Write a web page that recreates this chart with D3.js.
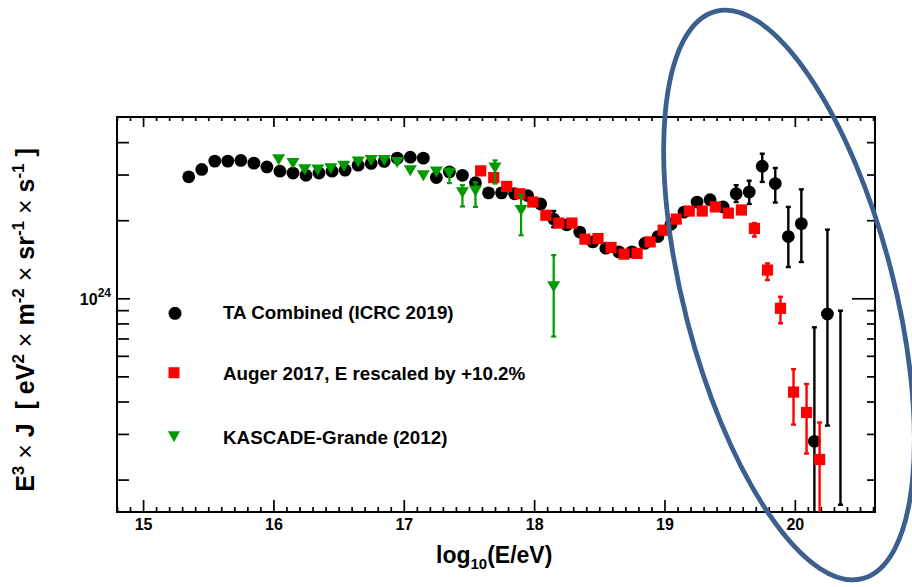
<!DOCTYPE html>
<html><head><meta charset="utf-8">
<script src="https://cdn.jsdelivr.net/npm/d3@7"></script>
<style>
body{margin:0;background:#fff}
svg{display:block}
text{font-family:"Liberation Sans",Arial,Helvetica,sans-serif}
</style>
</head><body>
<svg id="c" width="912" height="587"></svg>
<script>
// ---------------- DATA ----------------
// TA Combined (ICRC 2019)
const taLogE = [15.35,15.45,15.55,15.65,15.75,15.85,15.95,16.05,16.15,16.25,16.35,16.45,16.55,16.65,16.75,16.85,16.95,17.05,17.15,17.25,17.35,17.45,17.55,17.65,17.75,17.85,17.95,18.05,18.15,18.25,18.35,18.45,18.55,18.65,18.75,18.85,18.95,19.05,19.15,19.25,19.35,19.45,19.55,19.65,19.75,19.85,19.95,20.05,20.15,20.25,20.35];
const taJ    = [2.94e24,3.14e24,3.38e24,3.38e24,3.40e24,3.32e24,3.21e24,3.09e24,3.04e24,2.98e24,3.04e24,3.09e24,3.12e24,3.26e24,3.31e24,3.37e24,3.47e24,3.50e24,3.47e24,2.92e24,3.07e24,2.98e24,2.79e24,2.55e24,2.55e24,2.53e24,2.49e24,2.31e24,2.02e24,1.92e24,1.80e24,1.65e24,1.56e24,1.51e24,1.51e24,1.63e24,1.73e24,1.93e24,2.15e24,2.35e24,2.40e24,2.25e24,2.53e24,2.57e24,3.23e24,2.77e24,1.73e24,1.94e24,2.81e23,8.70e23,null];
const taLo   = [null,null,null,null,null,null,null,null,null,null,null,null,null,null,null,null,null,null,null,null,null,null,null,null,null,null,null,null,1.88e24,null,null,null,null,null,null,null,null,null,null,null,null,null,2.35e24,2.31e24,2.81e24,2.34e24,1.32e24,1.38e24,1.0e23,3.23e23,1.60e23];
const taHi   = [null,null,null,null,null,null,null,null,null,null,null,null,null,null,null,null,null,null,null,null,null,null,null,null,null,null,null,null,2.17e24,null,null,null,null,null,null,null,null,null,null,null,null,null,2.73e24,2.84e24,3.61e24,3.18e24,2.25e24,2.63e24,7.73e23,1.84e24,8.96e23];

// Auger 2017, E rescaled by +10.2%
const augerLogE = [17.59,17.69,17.79,17.89,17.99,18.09,18.19,18.29,18.39,18.49,18.59,18.69,18.79,18.89,18.99,19.09,19.19,19.29,19.39,19.49,19.59,19.69,19.79,19.89,19.99,20.09,20.19];
const augerJ    = [3.10e24,2.92e24,2.70e24,2.53e24,2.35e24,2.09e24,1.95e24,1.95e24,1.69e24,1.70e24,1.57e24,1.48e24,1.49e24,1.65e24,1.83e24,2.02e24,2.17e24,2.17e24,2.25e24,2.13e24,2.19e24,1.86e24,1.285e24,9.15e23,4.35e23,3.63e23,2.39e23];
const augerLo   = [null,null,null,null,null,null,null,null,null,null,null,null,null,null,null,null,null,null,null,null,null,1.73e24,1.176e24,8.01e23,3.26e23,2.52e23,1.0e23];
const augerHi   = [null,null,null,null,null,null,null,null,null,null,null,null,null,null,null,null,null,null,null,null,null,1.95e24,1.363e24,1.014e24,5.33e23,4.67e23,3.32e23];

// KASCADE-Grande (2012)
const kgLogE = [16.04,16.15,16.24,16.34,16.44,16.54,16.65,16.75,16.85,16.95,17.05,17.15,17.25,17.35,17.45,17.55,17.70,17.90,18.15];
const kgJ    = [3.42e24,3.31e24,3.13e24,3.12e24,3.16e24,3.23e24,3.35e24,3.40e24,3.40e24,3.34e24,3.10e24,2.97e24,3.07e24,3.03e24,2.55e24,2.59e24,3.18e24,2.18e24,1.108e24];
const kgLo   = [null,null,null,null,null,null,null,null,null,null,null,null,null,2.78e24,2.26e24,2.25e24,2.77e24,1.75e24,7.12e23];
const kgHi   = [null,null,null,null,null,null,null,null,null,null,null,null,null,3.17e24,2.73e24,2.80e24,3.40e24,2.50e24,1.467e24];

const xMajorTicks = [15,16,17,18,19,20];
const yMajorTicks = [1e24];
const yMinorTicks = [2e23,3e23,4e23,5e23,6e23,7e23,8e23,9e23,2e24,3e24,4e24];
const legendLabels = ["TA Combined (ICRC 2019)","Auger 2017, E rescaled by +10.2%","KASCADE-Grande (2012)"];

// ---------------- LAYOUT ----------------
const L=117,R=875,T=117,B=512;
const FONT='"Liberation Sans",Arial,Helvetica,sans-serif';
const svg=d3.select("#c");
const x=d3.scaleLinear().domain([14.8,20.615]).range([L,R]);
const y=d3.scaleLog().domain([1.5e23,5e24]).range([B,T]);

const xMinorTicks=d3.range(148,207).filter(d=>d%10!==0).map(d=>d/10);

function styleAxis(g){
  g.select(".domain").remove();
  g.selectAll(".tick line").attr("stroke","#000").attr("stroke-width",1.7);
  g.attr("font-family",FONT);
}
// bottom
svg.append("g").attr("transform",`translate(0,${B})`)
  .call(d3.axisBottom(x).tickValues(xMinorTicks).tickSize(-5).tickFormat("")).call(styleAxis);
svg.append("g").attr("transform",`translate(0,${B})`)
  .call(d3.axisBottom(x).tickValues(xMajorTicks).tickSize(-12).tickPadding(7).tickFormat(d3.format("d")))
  .call(styleAxis)
  .call(g=>g.selectAll("text").style("font-size","16px").style("font-weight","bold").attr("fill","#000"));
// top
svg.append("g").attr("transform",`translate(0,${T})`)
  .call(d3.axisTop(x).tickValues(xMinorTicks).tickSize(-4).tickFormat("")).call(styleAxis);
svg.append("g").attr("transform",`translate(0,${T})`)
  .call(d3.axisTop(x).tickValues(xMajorTicks).tickSize(-10).tickFormat("")).call(styleAxis);
// left
svg.append("g").attr("transform",`translate(${L},0)`)
  .call(d3.axisLeft(y).tickValues(yMinorTicks).tickSize(-12).tickFormat("")).call(styleAxis);
svg.append("g").attr("transform",`translate(${L},0)`)
  .call(d3.axisLeft(y).tickValues(yMajorTicks).tickSize(-13).tickFormat("")).call(styleAxis);
// right
svg.append("g").attr("transform",`translate(${R},0)`)
  .call(d3.axisRight(y).tickValues(yMinorTicks).tickSize(-8).tickFormat("")).call(styleAxis);
svg.append("g").attr("transform",`translate(${R},0)`)
  .call(d3.axisRight(y).tickValues(yMajorTicks).tickSize(-23).tickFormat("")).call(styleAxis);

// 10^24 label
yMajorTicks.forEach(v=>{
  const exp=Math.round(Math.log10(v));
  const t=svg.append("text").attr("x",111).attr("y",y(v)+7).attr("text-anchor","end")
    .attr("font-weight","bold").attr("font-size",16);
  t.append("tspan").text("10");
  t.append("tspan").attr("font-size",12).attr("dy",-8).text(exp);
});

// frame
svg.append("rect").attr("x",L).attr("y",T).attr("width",R-L).attr("height",B-T)
  .attr("fill","none").attr("stroke","#000").attr("stroke-width",2);

// clip
svg.append("clipPath").attr("id","clip").append("rect")
  .attr("x",L).attr("y",T).attr("width",R-L).attr("height",B-T);
const plot=svg.append("g").attr("clip-path","url(#clip)");

function series(logE,J,lo,hi){return logE.map((e,i)=>({e,j:J[i],lo:lo[i],hi:hi[i]}));}
function errBars(g,data,color,w){
  const d=data.filter(p=>p.lo!=null&&p.hi!=null);
  g.selectAll(null).data(d).join("line")
    .attr("x1",p=>x(p.e)).attr("x2",p=>x(p.e)).attr("y1",p=>y(p.lo)).attr("y2",p=>y(p.hi))
    .attr("stroke",color).attr("stroke-width",w);
  ["lo","hi"].forEach(k=>{
    g.selectAll(null).data(d).join("line")
      .attr("x1",p=>x(p.e)-2.5).attr("x2",p=>x(p.e)+2.5).attr("y1",p=>y(p[k])).attr("y2",p=>y(p[k]))
      .attr("stroke",color).attr("stroke-width",w);
  });
}
const ta=series(taLogE,taJ,taLo,taHi);
const au=series(augerLogE,augerJ,augerLo,augerHi);
const kg=series(kgLogE,kgJ,kgLo,kgHi);

const BLACK="#000", RED="#ff0000", GREEN="#009a00";
const triPath=(cx,cy,w,h)=>`M${cx-w/2},${cy-h/2}L${cx+w/2},${cy-h/2}L${cx},${cy+h/2}Z`;

// TA
const gTA=plot.append("g");
errBars(gTA,ta,BLACK,2.4);
gTA.selectAll("circle").data(ta.filter(p=>p.j!=null)).join("circle")
  .attr("cx",p=>x(p.e)).attr("cy",p=>y(p.j)).attr("r",6.4).attr("fill",BLACK);
// Auger
const gAu=plot.append("g");
errBars(gAu,au,RED,2.4);
gAu.selectAll("rect").data(au).join("rect")
  .attr("x",p=>x(p.e)-5.6).attr("y",p=>y(p.j)-5.6).attr("width",11.2).attr("height",11.2).attr("fill",RED);
// KASCADE
const gKG=plot.append("g");
errBars(gKG,kg,GREEN,2.2);
gKG.selectAll("path").data(kg).join("path")
  .attr("d",p=>triPath(x(p.e),y(p.j),13,11)).attr("fill",GREEN);

// Legend
const lg=svg.append("g");
lg.append("circle").attr("cx",175).attr("cy",313.3).attr("r",6.5).attr("fill",BLACK);
lg.append("rect").attr("x",174-5.5).attr("y",372.7-5.5).attr("width",11).attr("height",11).attr("fill",RED);
lg.append("path").attr("d",triPath(174,436.7,12,11)).attr("fill",GREEN);
[318.5,379.5,443.5].forEach((yy,i)=>{
  lg.append("text").attr("x",223).attr("y",yy).attr("font-size",18.8).attr("font-weight","bold").text(legendLabels[i]);
});

// Axis titles
const xt=svg.append("text").attr("x",436).attr("y",563).attr("font-size",23).attr("font-weight","bold");
xt.append("tspan").text("log");
xt.append("tspan").attr("font-size",15).attr("dy",6).text("10");
xt.append("tspan").attr("dy",-6).text("(E/eV)");

const yt=svg.append("text").attr("transform","translate(34,320) rotate(-90)")
  .attr("text-anchor","middle").attr("font-size",25).attr("font-weight","bold");
const parts=[["E","n"],["3","s"],["\u00a0\u00d7\u00a0","t"],["J","n"],["\u00a0\u00a0[\u00a0eV","n"],["2","s"],["\u00a0\u00d7\u00a0","t"],["m","n"],["-2","s"],["\u00a0\u00d7\u00a0","t"],["sr","n"],["-1","s"],["\u00a0\u00d7\u00a0","t"],["s","n"],["-1","s"],["\u00a0]","n"]];
let up=false;
parts.forEach(([s,k])=>{
  const ts=yt.append("tspan").text(s);
  if(k==="s"){ts.attr("font-size",17).attr("dy",-10);up=true;}
  else{ if(up){ts.attr("dy",10);up=false;} if(k==="t") ts.attr("font-weight","normal"); }
});

// highlight ellipse
svg.append("ellipse").attr("cx",789).attr("cy",295).attr("rx",105).attr("ry",293)
  .attr("transform","rotate(-14.5,789,295)")
  .attr("fill","none").attr("stroke","#3d5f8e").attr("stroke-width",4.8);
</script>
</body></html>
